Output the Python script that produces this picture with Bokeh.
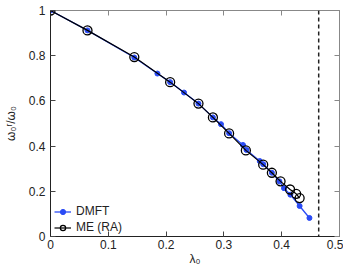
from bokeh.plotting import figure
from bokeh.models import Span, LinearAxis, FixedTicker, Legend, LegendItem, Range1d
from bokeh.embed import file_html
from bokeh.resources import INLINE

# DMFT series
dmft_lam = [0.0, 0.064, 0.145, 0.185, 0.207, 0.231, 0.256, 0.281, 0.295, 0.309,
            0.333, 0.339, 0.362, 0.368, 0.383, 0.396, 0.404, 0.415, 0.431, 0.448]
dmft_w = [1.0, 0.912, 0.792, 0.721, 0.683, 0.637, 0.588, 0.527, 0.497, 0.457,
          0.405, 0.383, 0.334, 0.320, 0.282, 0.244, 0.214, 0.185, 0.135, 0.082]

# ME (RA) series
me_lam = [0.0, 0.064, 0.145, 0.207, 0.256, 0.281, 0.309, 0.338, 0.368, 0.383,
          0.398, 0.4145, 0.425, 0.431]
me_w = [1.0, 0.912, 0.794, 0.683, 0.588, 0.527, 0.456, 0.381, 0.318, 0.282,
        0.244, 0.208, 0.189, 0.170]

critical_lam = 0.464

x_ticks = [0, 0.1, 0.2, 0.3, 0.4, 0.5]
y_ticks = [0, 0.2, 0.4, 0.6, 0.8, 1.0]
x_tick_labels = {0: "0", 0.1: "0.1", 0.2: "0.2", 0.3: "0.3", 0.4: "0.4", 0.5: "0.5"}
y_tick_labels = {0: "0", 0.2: "0.2", 0.4: "0.4", 0.6: "0.6", 0.8: "0.8", 1.0: "1"}

FONT = "Liberation Sans"
BLUE = "#2a4bf5"

p = figure(frame_width=289, frame_height=226, output_backend="svg", toolbar_location=None,
           x_range=Range1d(0, 0.5), y_range=Range1d(0, 1),
           min_border_left=47, min_border_right=4, min_border_top=10, min_border_bottom=20)
p.grid.visible = False
p.outline_line_color = "#888888"
p.background_fill_color = "white"
p.border_fill_color = "white"

for ax, ticks, labels in ((p.xaxis[0], x_ticks, x_tick_labels), (p.yaxis[0], y_ticks, y_tick_labels)):
    ax.ticker = FixedTicker(ticks=ticks)
    ax.major_label_overrides = labels
    ax.minor_tick_line_color = None
    ax.major_tick_in = 5
    ax.major_tick_out = 0
    ax.major_label_text_font = FONT
    ax.major_label_text_font_size = "12px"
    ax.major_label_text_color = "#222222"
    ax.axis_line_color = "#222222"
    ax.major_tick_line_color = "#444444"
    ax.axis_label_text_font = FONT
    ax.axis_label_text_font_size = "12px"
    ax.axis_label_text_font_style = "normal"
    ax.axis_label_text_color = "#222222"

p.xaxis.axis_label = "λ₀"
p.xaxis.axis_label_standoff = 0
p.xaxis.major_label_standoff = 3
p.yaxis.axis_label = "ω₀ʳ/ω₀"
p.yaxis.axis_label_standoff = 8
p.yaxis.major_label_standoff = 5

for ticks, loc in ((x_ticks, "above"), (y_ticks, "right")):
    ax = LinearAxis(ticker=FixedTicker(ticks=ticks), major_label_text_font_size="1px",
                    major_label_text_color=None, major_tick_in=5, major_tick_out=0,
                    minor_tick_line_color=None, axis_line_color="#888888",
                    major_tick_line_color="#888888", major_label_standoff=0)
    p.add_layout(ax, loc)

span = Span(location=critical_lam, dimension="height", line_color="#222222",
            line_width=1.5, line_dash="4 3")
p.add_layout(span)

bl = p.line(dmft_lam, dmft_w, line_color=BLUE, line_width=1.3)
bs = p.scatter(dmft_lam, dmft_w, size=5, marker="circle", fill_color=BLUE, line_color=BLUE)
kl = p.line(me_lam, me_w, line_color="black", line_width=1.2)
ks = p.scatter(me_lam, me_w, size=9, marker="circle", fill_color=None, line_color="black",
               line_width=1.3)

legend = Legend(items=[LegendItem(label="DMFT", renderers=[bl, bs]),
                       LegendItem(label="ME (RA)", renderers=[kl, ks])],
                location=(4, 2), padding=4, margin=0, spacing=2,
                glyph_width=17, glyph_height=13, label_height=13, label_standoff=5,
                label_text_font=FONT, label_text_font_size="12px",
                label_text_color="#222222",
                border_line_color=None, background_fill_alpha=0)
p.add_layout(legend)

open("out.html", "w").write(file_html(p, INLINE))
